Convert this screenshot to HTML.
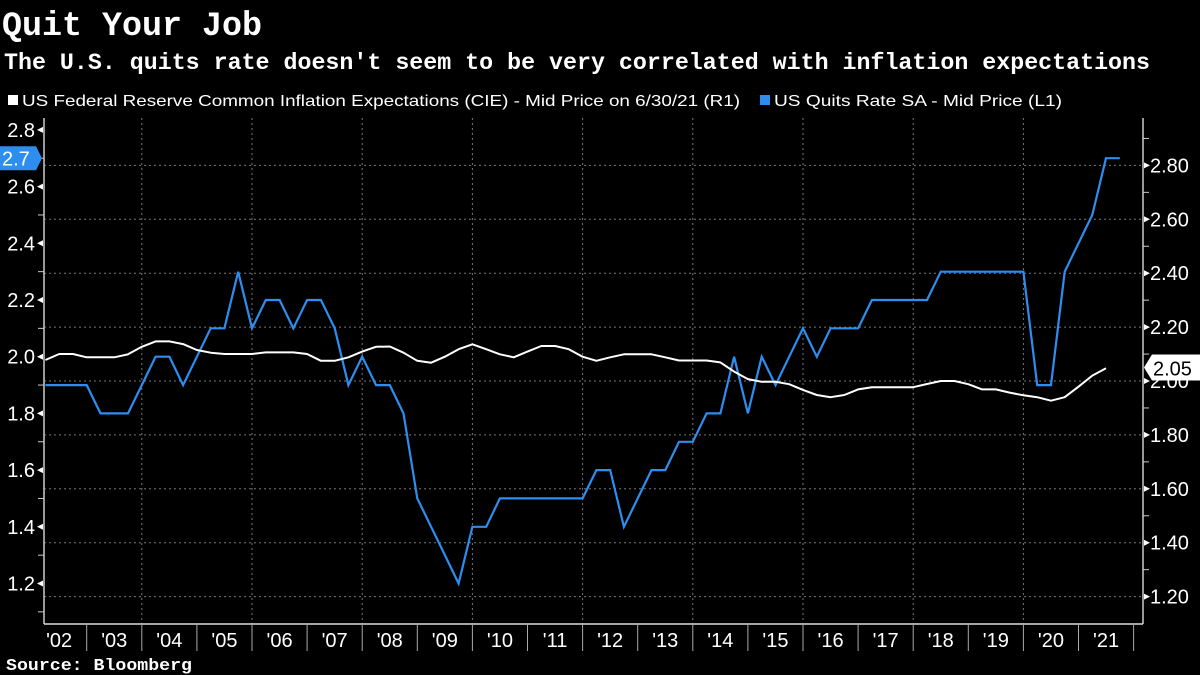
<!DOCTYPE html>
<html><head><meta charset="utf-8"><style>
html,body{margin:0;padding:0;background:#000;width:1200px;height:675px;overflow:hidden}
svg text{font-family:"Liberation Sans",sans-serif}
</style></head><body>
<svg id="c" width="1200" height="675" xmlns="http://www.w3.org/2000/svg">
<text x="2" y="35" fill="#fff" font-size="34" font-weight="bold" style="font-family:'Liberation Mono',monospace" textLength="260" lengthAdjust="spacingAndGlyphs">Quit Your Job</text>
<text x="4" y="69" fill="#fff" font-size="23" font-weight="bold" style="font-family:'Liberation Mono',monospace" textLength="1146" lengthAdjust="spacingAndGlyphs">The U.S. quits rate doesn't seem to be very correlated with inflation expectations</text>
<g>
<rect x="8" y="95" width="10" height="10" fill="#fff"/>
<text x="22" y="106" fill="#fff" font-size="16" textLength="718" lengthAdjust="spacingAndGlyphs">US Federal Reserve Common Inflation Expectations (CIE) - Mid Price on 6/30/21 (R1)</text>
<rect x="760" y="95" width="10" height="10" fill="#2d8ef0"/>
<text x="774" y="106" fill="#fff" font-size="16" textLength="288" lengthAdjust="spacingAndGlyphs">US Quits Rate SA - Mid Price (L1)</text>
</g>
<g id="grid"></g>
<g id="axes"></g>
<g id="series"></g>
<g id="flags"></g>
<text x="6" y="670" fill="#fff" font-size="17" font-weight="bold" style="font-family:'Liberation Mono',monospace" textLength="186" lengthAdjust="spacingAndGlyphs">Source: Bloomberg</text>
</svg>
<script>
const quitsRate=[1.9,1.9,1.9,1.9,1.8,1.8,1.8,1.9,2.0,2.0,1.9,2.0,2.1,2.1,2.3,2.1,2.2,2.2,2.1,2.2,2.2,2.1,1.9,2.0,1.9,1.9,1.8,1.5,1.4,1.3,1.2,1.4,1.4,1.5,1.5,1.5,1.5,1.5,1.5,1.5,1.6,1.6,1.4,1.5,1.6,1.6,1.7,1.7,1.8,1.8,2.0,1.8,2.0,1.9,2.0,2.1,2.0,2.1,2.1,2.1,2.2,2.2,2.2,2.2,2.2,2.3,2.3,2.3,2.3,2.3,2.3,2.3,1.9,1.9,2.3,2.4,2.5,2.7,2.7];
const cie=[2.078,2.10,2.10,2.088,2.088,2.088,2.099,2.127,2.147,2.147,2.137,2.115,2.105,2.10,2.10,2.10,2.106,2.106,2.106,2.10,2.075,2.075,2.088,2.109,2.127,2.128,2.105,2.075,2.068,2.09,2.118,2.136,2.118,2.099,2.088,2.109,2.13,2.13,2.118,2.09,2.075,2.088,2.099,2.099,2.099,2.088,2.076,2.076,2.076,2.069,2.035,2.007,1.997,1.997,1.988,1.967,1.948,1.94,1.948,1.969,1.977,1.977,1.977,1.977,1.989,2.0,2.0,1.988,1.969,1.969,1.957,1.947,1.94,1.927,1.94,1.979,2.02,2.047];
const startYear=2002.25;
const yearLabels=["'02","'03","'04","'05","'06","'07","'08","'09","'10","'11","'12","'13","'14","'15","'16","'17","'18","'19","'20","'21"];
const leftTicks=[2.8,2.6,2.4,2.2,2.0,1.8,1.6,1.4,1.2];
const rightTicks=[2.80,2.60,2.40,2.20,2.00,1.80,1.60,1.40,1.20];
const lastQuits=2.7, lastCie=2.05;

const NS="http://www.w3.org/2000/svg";
const X=t=>86.7+(t-2003)*55.1;
const YL=v=>356.7-(v-2.0)*283.5;
const YR=v=>381-(v-2.0)*269.5;
const L=44,R=1143,T=118,B=624;
function mk(tag,attrs,parent){const e=document.createElementNS(NS,tag);for(const k in attrs)e.setAttribute(k,attrs[k]);document.getElementById(parent).appendChild(e);return e;}

rightTicks.forEach(v=>{const e=mk('line',{x1:L,x2:R,y1:YR(v),y2:YR(v),stroke:'#777','stroke-width':1,'stroke-dasharray':'2,3'},'grid');

});
for(let y=2004;y<=2020;y+=2){const e=mk('line',{x1:X(y),x2:X(y),y1:T,y2:B,stroke:'#777','stroke-width':1,'stroke-dasharray':'2,3'},'grid');

}

let a=mk('line',{x1:L,x2:L,y1:T,y2:B,stroke:'#ccc','stroke-width':1.5},'axes');


a=mk('line',{x1:R,x2:R,y1:T,y2:B,stroke:'#ccc','stroke-width':1.5},'axes');


a=mk('line',{x1:L,x2:R,y1:B,y2:B,stroke:'#ddd','stroke-width':1.5},'axes');



leftTicks.forEach(v=>{const y=YL(v);
 const t=mk('text',{x:35,y:y+7,fill:'#fff','font-size':20,'text-anchor':'end'},'axes');t.textContent=v.toFixed(1);
 
 
 const p=mk('path',{d:`M${L-1} ${y-3}L${L-1} ${y+3}L${L-7} ${y}Z`,fill:'#fff'},'axes');
 
 
 const m=mk('line',{x1:L-6,x2:L,y1:YL(v-0.1),y2:YL(v-0.1),stroke:'#ccc'},'axes');
 
 });
rightTicks.forEach(v=>{const y=YR(v);
 const t=mk('text',{x:1150,y:y+7,fill:'#fff','font-size':20},'axes');t.textContent=v.toFixed(2);
 
 
 const p=mk('path',{d:`M${R+1} ${y-3}L${R+1} ${y+3}L${R+7} ${y}Z`,fill:'#fff'},'axes');
 
 
 const m=mk('line',{x1:R,x2:R+6,y1:YR(v+0.1),y2:YR(v+0.1),stroke:'#ccc'},'axes');
 
 });
yearLabels.forEach((lab,i)=>{const y0=2002+i;
 const t=mk('text',{x:X(y0+0.5),y:647,fill:'#fff','font-size':20,'text-anchor':'middle'},'axes');t.textContent=lab;
 
 
 const s=mk('line',{x1:X(y0+1),x2:X(y0+1),y1:B,y2:651,stroke:'#aaa'},'axes');
 
 });

const pq=quitsRate.map((v,i)=>`${X(startYear+i*0.25).toFixed(1)},${YL(v).toFixed(1)}`).join(' ');
let s=mk('polyline',{points:pq,fill:'none',stroke:'#2d8ef0','stroke-width':2.2,'stroke-linejoin':'miter'},'series');


const pc=cie.map((v,i)=>`${X(startYear+i*0.25).toFixed(1)},${YR(v).toFixed(1)}`).join(' ');
s=mk('polyline',{points:pc,fill:'none',stroke:'#fff','stroke-width':2,'stroke-linejoin':'round'},'series');



let yq=YL(lastQuits);
let f=mk('path',{d:`M0 ${yq-12}L36 ${yq-12}L42 ${yq}L36 ${yq+12}L0 ${yq+12}Z`,fill:'#2d8ef0'},'flags');


let ft=mk('text',{x:2,y:yq+7,fill:'#fff','font-size':20},'flags');ft.textContent=lastQuits.toFixed(1);


let yc=YR(lastCie);
f=mk('path',{d:`M1144 ${yc}L1152 ${yc-13}L1200 ${yc-13}L1200 ${yc+13}L1152 ${yc+13}Z`,fill:'#fff'},'flags');


ft=mk('text',{x:1153,y:yc+8,fill:'#000','font-size':20},'flags');ft.textContent=lastCie.toFixed(2);


</script>
</body></html>
